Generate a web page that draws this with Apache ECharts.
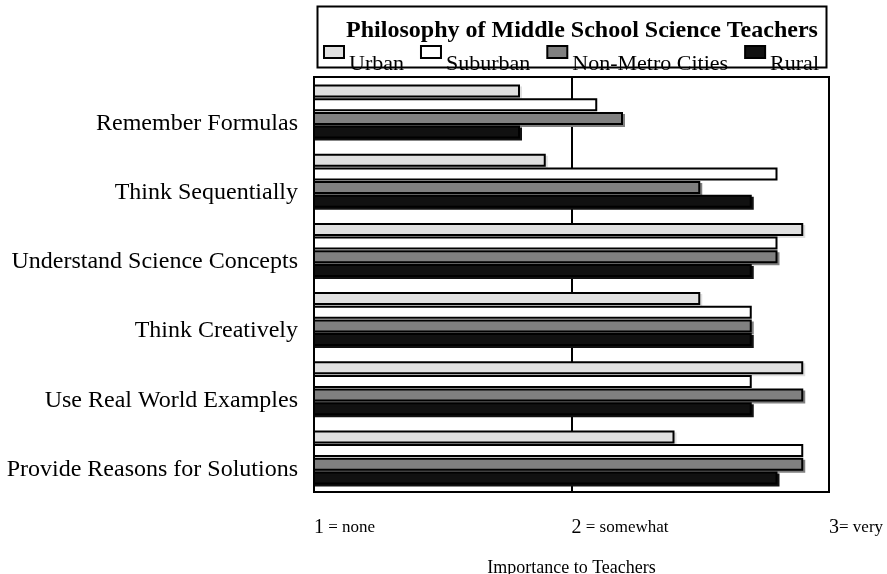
<!DOCTYPE html>
<html>
<head>
<meta charset="utf-8">
<script src="https://cdn.jsdelivr.net/npm/echarts@6/dist/echarts.min.js"></script>
<style>
  html, body { margin: 0; padding: 0; background: #fff; }
  #chart { width: 887px; height: 574px; }
</style>
</head>
<body>
<div id="chart"></div>
<script>
var categories = ['Remember Formulas', 'Think Sequentially', 'Understand Science Concepts', 'Think Creatively', 'Use Real World Examples', 'Provide Reasons for Solutions'];
var urban = [1.8, 1.9, 2.9, 2.5, 2.9, 2.4];
var suburban = [2.1, 2.8, 2.8, 2.7, 2.7, 2.9];
var nonMetro = [2.2, 2.5, 2.8, 2.7, 2.9, 2.9];
var rural = [1.8, 2.7, 2.7, 2.7, 2.7, 2.8];
var tickLabels = { 1: ['1', ' = none'], 2: ['2', ' = somewhat'], 3: ['3', '= very'] };

var font = 'Liberation Serif';

function barSeries(name, data, fill) {
	return {
		name: name,
		type: 'bar',
		data: data,
		barWidth: 13,
		barGap: '5%',
		itemStyle: {
			color: fill,
			borderColor: '#000',
			borderWidth: 2,
			shadowColor: fill,
			shadowOffsetX: 2,
			shadowOffsetY: 2,
			shadowBlur: 0
		}
	};
}

var chart = echarts.init(document.getElementById('chart'));
var option = {
	textStyle: { fontFamily: font },
	animation: false,
	title: {
		text: 'Philosophy of Middle School Science Teachers',
		left: 582,
		textAlign: 'center',
		top: 19,
		padding: 0,
		textStyle: { fontFamily: font, fontSize: 24, fontWeight: 'bold', color: '#000' }
	},
	legend: {
		left: 323,
		top: 45,
		padding: 0,
		itemWidth: 20,
		itemHeight: 36,
		itemGap: 16,
		// box drawn at the top of the symbol so the label sits lower, as in the original
		icon: 'path://M0,0H20V12H0Z M20,36L20,36',
		textStyle: { fontFamily: font, fontSize: 22, color: '#000' },
		data: ['Urban', 'Suburban', 'Non-Metro Cities', 'Rural']
	},
	graphic: [{
		type: 'rect',
		left: 315,
		top: 4,
		shape: { width: 509, height: 61 },
		style: { fill: 'none', stroke: '#000', lineWidth: 2 },
		z: -1
	}],
	grid: {
		left: 314, right: 58, top: 77, bottom: 82,
		outerBoundsMode: 'none',
		show: true,
		borderColor: '#000',
		borderWidth: 2,
		backgroundColor: 'transparent'
	},
	xAxis: {
		type: 'value',
		min: 1,
		max: 3,
		interval: 1,
		name: 'Importance to Teachers',
		nameLocation: 'middle',
		nameGap: 67,
		nameTextStyle: { fontFamily: font, fontSize: 18, color: '#000' },
		axisLine: { show: false },
		axisTick: { show: false },
		splitLine: { show: true, lineStyle: { color: '#000', width: 2 } },
		axisLabel: {
			margin: 26,
			align: 'left',
			formatter: function (v) {
				var t = tickLabels[v];
				return t ? '{big|' + t[0] + '}{small|' + t[1] + '}' : '';
			},
			rich: {
				big: { fontFamily: font, fontSize: 20, color: '#000' },
				small: { fontFamily: font, fontSize: 17, color: '#000' }
			}
		}
	},
	yAxis: {
		type: 'category',
		inverse: true,
		data: categories,
		axisLine: { show: false },
		axisTick: { show: false },
		axisLabel: {
			margin: 16,
			fontFamily: font,
			fontSize: 24,
			color: '#000',
			verticalAlign: 'top'
		}
	},
	series: [
		barSeries('Urban', urban, '#e0e0e0'),
		barSeries('Suburban', suburban, '#ffffff'),
		barSeries('Non-Metro Cities', nonMetro, '#808080'),
		barSeries('Rural', rural, '#111111')
	]
};
chart.setOption(option);
</script>
</body>
</html>
